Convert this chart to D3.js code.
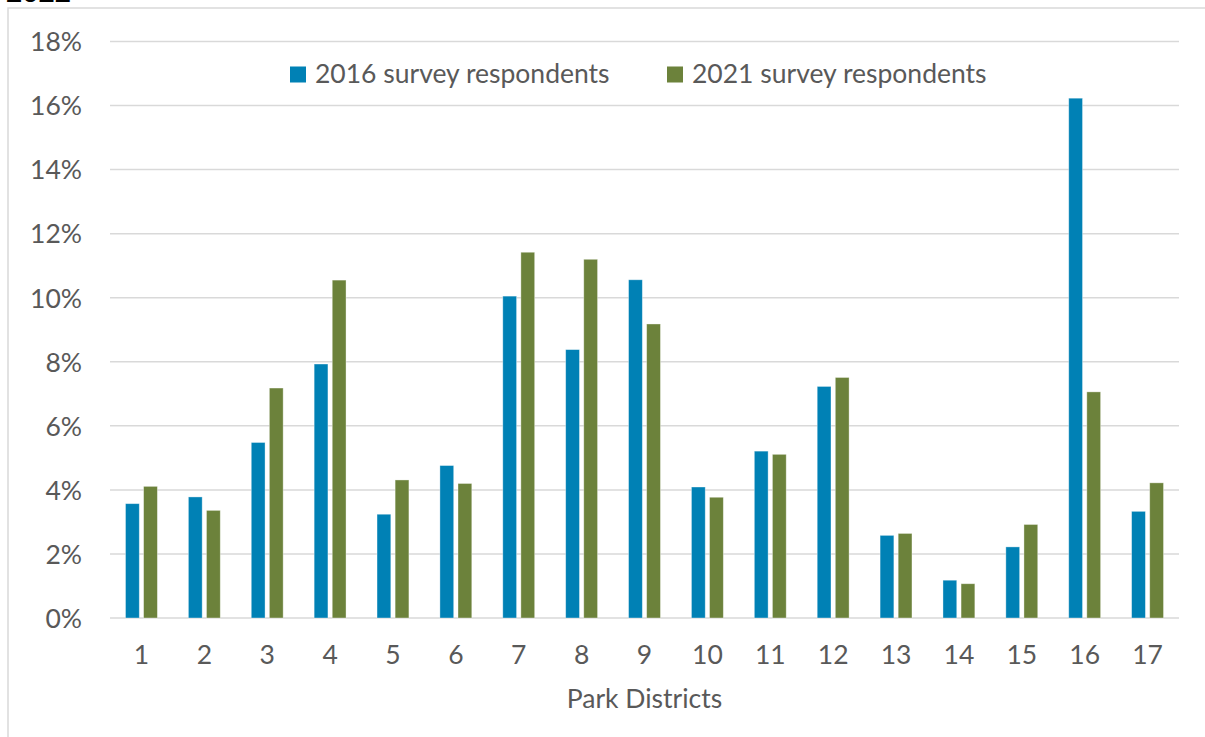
<!DOCTYPE html>
<html>
<head>
<meta charset="utf-8">
<script src="https://cdn.jsdelivr.net/npm/d3@7"></script>
<style>
  html, body { margin: 0; padding: 0; background: #fff; }
  svg { display: block; }
  text { font-family: Lato, "Open Sans", sans-serif; fill: #595959; }
</style>
</head>
<body>
<div id="chart"></div>
<script>
'use strict';

// Park districts and share of respondents per survey year
const districts = ['1', '2', '3', '4', '5', '6', '7', '8', '9', '10', '11', '12', '13', '14', '15', '16', '17'];
const seriesNames = ['2016 survey respondents', '2021 survey respondents'];
const values2016 = [3.57, 3.78, 5.48, 7.93, 3.24, 4.76, 10.05, 8.38, 10.56, 4.09, 5.21, 7.23, 2.58, 1.18, 2.22, 16.23, 3.33];
const values2021 = [4.11, 3.36, 7.18, 10.55, 4.31, 4.20, 11.42, 11.20, 9.18, 3.77, 5.11, 7.51, 2.64, 1.07, 2.92, 7.06, 4.22];
const yTicks = [0, 2, 4, 6, 8, 10, 12, 14, 16, 18];
const xTitle = 'Park Districts';

const colors = ['#0081b5', '#6c823b'];

const W = 1205;
const H = 737;
const margin = { top: 41.5, right: 26, bottom: 119, left: 110 };

const svg = d3.select('#chart').append('svg')
  .attr('width', W)
  .attr('height', H);

// outer frame of the pasted chart (only top and left edges show)
svg.append('path')
  .attr('d', `M8,${H} V8 H${W}`)
  .attr('fill', 'none')
  .attr('stroke', '#d9d9d9')
  .attr('stroke-width', 1.5);

// title cut off at the top, as in the source
svg.append('text')
  .attr('x', 6)
  .attr('y', 1.5)
  .attr('font-size', 28)
  .attr('font-weight', 'bold')
  .style('fill', '#000')
  .text('2022');

const x0 = d3.scaleBand()
  .domain(districts)
  .range([margin.left, W - margin.right]);

const groupW = x0.bandwidth() * 0.507;

const x1 = d3.scaleBand()
  .domain(seriesNames)
  .range([0, groupW])
  .paddingInner(0.238);

const y = d3.scaleLinear()
  .domain([0, 18])
  .range([H - margin.bottom, margin.top]);

// gridlines
svg.append('g')
  .selectAll('line')
  .data(yTicks)
  .join('line')
  .attr('x1', margin.left)
  .attr('x2', W - margin.right)
  .attr('y1', d => y(d))
  .attr('y2', d => y(d))
  .attr('stroke', '#d9d9d9')
  .attr('stroke-width', 1.5);

// y axis labels
const yAxis = d3.axisLeft(y)
  .tickValues(yTicks)
  .tickFormat(d => `${d}%`)
  .tickSize(0)
  .tickPadding(28);

svg.append('g')
  .attr('transform', `translate(${margin.left},0)`)
  .call(yAxis)
  .call(g => g.select('.domain').remove())
  .call(g => g.selectAll('text')
    .attr('font-size', 26.5)
    .attr('font-family', null)
    .attr('fill', null)
    .attr('dy', '0.35em'));

// x axis labels
const xAxis = d3.axisBottom(x0)
  .tickSize(0)
  .tickPadding(27);

svg.append('g')
  .attr('transform', `translate(0,${y(0)})`)
  .call(xAxis)
  .call(g => g.select('.domain').remove())
  .call(g => g.selectAll('text')
    .attr('font-size', 26.5)
    .attr('font-family', null)
    .attr('fill', null)
    .attr('dy', 0)
    .attr('y', 46));

// bars
const rows = districts.map((d, i) => ({ key: d, vals: [values2016[i], values2021[i]] }));

const groups = svg.append('g')
  .selectAll('g')
  .data(rows)
  .join('g')
  .attr('transform', d => `translate(${x0(d.key) + (x0.bandwidth() - groupW) / 2},0)`);

groups.selectAll('rect')
  .data(d => d.vals.map((v, j) => ({ name: seriesNames[j], value: v, color: colors[j] })))
  .join('rect')
  .attr('x', d => x1(d.name))
  .attr('width', x1.bandwidth())
  .attr('y', d => y(d.value))
  .attr('height', d => y(0) - y(d.value))
  .attr('fill', d => d.color)
  .attr('stroke', '#fff')
  .attr('stroke-opacity', 0.45)
  .attr('stroke-width', 0.8);

// legend
const legendX = [290, 667];
const legend = svg.append('g')
  .selectAll('g')
  .data(seriesNames)
  .join('g')
  .attr('transform', (d, i) => `translate(${legendX[i]},66.5)`);

legend.append('rect')
  .attr('width', 16)
  .attr('height', 16)
  .attr('fill', (d, i) => colors[i]);

legend.append('text')
  .attr('x', 25)
  .attr('y', 16.5)
  .attr('font-size', 26.5)
  .text(d => d);

// x axis title
svg.append('text')
  .attr('x', (margin.left + W - margin.right) / 2)
  .attr('y', 708)
  .attr('text-anchor', 'middle')
  .attr('font-size', 26.5)
  .text(xTitle);
</script>
</body>
</html>
